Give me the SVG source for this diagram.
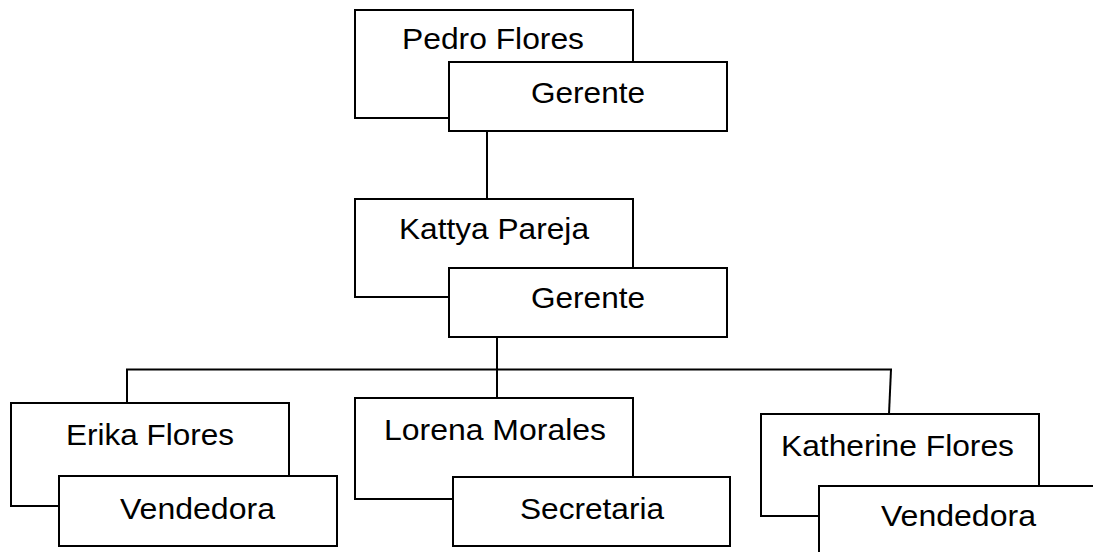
<svg xmlns="http://www.w3.org/2000/svg" width="1093" height="552" viewBox="0 0 1093 552">
<style>
.box{fill:#fff;stroke:#000;stroke-width:2}
.lbl{font-family:"Liberation Sans",Arial,sans-serif;font-size:29px;fill:#000}
.con{stroke:#000;stroke-width:2;fill:none}
</style>
<rect width="1093" height="552" fill="#fff"/>
<g id="connectors">
<line class="con" x1="487" y1="131" x2="487" y2="199"/>
<line class="con" x1="497" y1="337" x2="497" y2="398"/>
<line class="con" x1="126" y1="369.5" x2="892" y2="369.5"/>
<line class="con" x1="127" y1="369.5" x2="127" y2="403"/>
<line class="con" x1="891" y1="369.5" x2="889" y2="414"/>
</g>
<g id="pedro">
<rect class="box" x="355" y="10" width="278" height="108"/>
<text class="lbl" x="402" y="49" textLength="182" lengthAdjust="spacingAndGlyphs">Pedro Flores</text>
<rect class="box" x="449" y="62" width="278" height="69"/>
<text class="lbl" x="531" y="103" textLength="114" lengthAdjust="spacingAndGlyphs">Gerente</text>
</g>
<g id="kattya">
<rect class="box" x="355" y="199" width="278" height="98"/>
<text class="lbl" x="399" y="239" textLength="190" lengthAdjust="spacingAndGlyphs">Kattya Pareja</text>
<rect class="box" x="449" y="268" width="278" height="69"/>
<text class="lbl" x="531" y="308" textLength="114" lengthAdjust="spacingAndGlyphs">Gerente</text>
</g>
<g id="erika">
<rect class="box" x="11" y="403" width="278" height="103"/>
<text class="lbl" x="66" y="445" textLength="168" lengthAdjust="spacingAndGlyphs">Erika Flores</text>
<rect class="box" x="59" y="476" width="278" height="70"/>
<text class="lbl" x="120" y="519" textLength="155" lengthAdjust="spacingAndGlyphs">Vendedora</text>
</g>
<g id="lorena">
<rect class="box" x="355" y="398" width="278" height="101"/>
<text class="lbl" x="384" y="440" textLength="222" lengthAdjust="spacingAndGlyphs">Lorena Morales</text>
<rect class="box" x="453" y="477" width="277" height="69"/>
<text class="lbl" x="520" y="519" textLength="144" lengthAdjust="spacingAndGlyphs">Secretaria</text>
</g>
<g id="katherine">
<rect class="box" x="761" y="414" width="278" height="102"/>
<text class="lbl" x="781" y="456" textLength="233" lengthAdjust="spacingAndGlyphs">Katherine Flores</text>
<rect class="box" x="819" y="486" width="280" height="72"/>
<text class="lbl" x="881" y="526" textLength="155" lengthAdjust="spacingAndGlyphs">Vendedora</text>
</g>
</svg>
